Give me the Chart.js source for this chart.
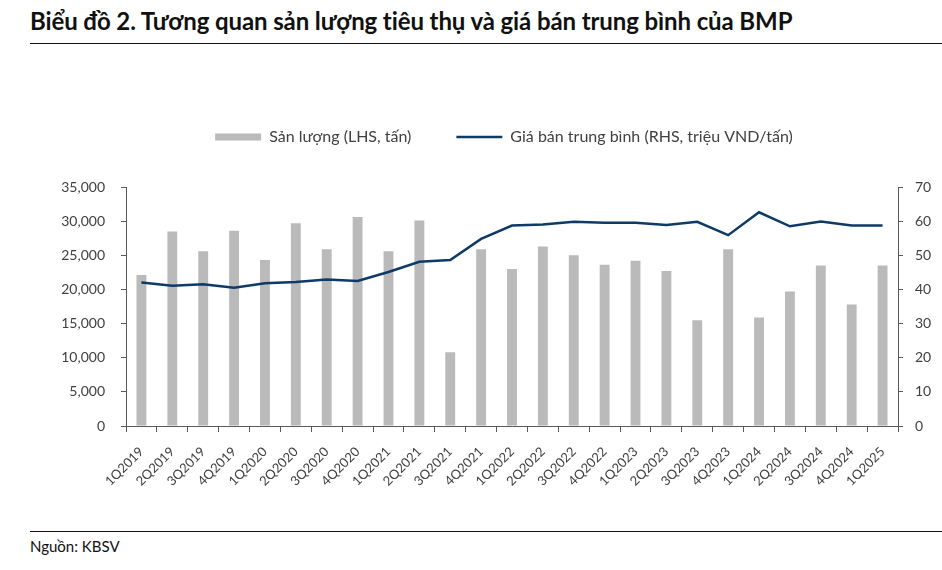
<!DOCTYPE html>
<html>
<head>
<meta charset="utf-8">
<script src="https://cdn.jsdelivr.net/npm/chart.js@4"></script>
<style>
  body { margin: 0; width: 942px; height: 570px; background: #fff; position: relative; overflow: hidden; font-family: Lato, sans-serif; }
  #title { position: absolute; left: 30px; top: 6px; font-size: 24px; font-weight: bold; color: #111; white-space: nowrap; letter-spacing: -0.1px; }
  .rule { position: absolute; left: 30px; right: 0; height: 0; border-top: 1.5px solid #111; }
  #src { position: absolute; left: 30px; top: 537px; font-size: 15px; color: #111; }
  #wrap { position: absolute; left: 0; top: 60px; }
</style>
</head>
<body>
<div id="title">Biểu đồ 2. Tương quan sản lượng tiêu thụ và giá bán trung bình của BMP</div>
<div class="rule" style="top:43px"></div>
<div id="wrap"><canvas id="c" width="942" height="460"></canvas></div>
<div class="rule" style="top:531px"></div>
<div id="src">Nguồn: KBSV</div>
<script>
// ── Data ─────────────────────────────────────────────────────────
const quarters = ['1Q2019','2Q2019','3Q2019','4Q2019','1Q2020','2Q2020','3Q2020','4Q2020',
  '1Q2021','2Q2021','3Q2021','4Q2021','1Q2022','2Q2022','3Q2022','4Q2022',
  '1Q2023','2Q2023','3Q2023','4Q2023','1Q2024','2Q2024','3Q2024','4Q2024','1Q2025'];
const volume = [22100, 28500, 25600, 28600, 24300, 29700, 25900, 30600,
  25600, 30100, 10800, 25900, 23000, 26300, 25000, 23600,
  24200, 22700, 15500, 25900, 15900, 19700, 23500, 17800, 23500];
const avgPrice = [42.0, 41.1, 41.5, 40.5, 41.8, 42.2, 42.9, 42.5,
  45.1, 48.1, 48.6, 54.8, 58.7, 59.0, 59.8, 59.5,
  59.5, 58.9, 59.8, 55.9, 62.6, 58.5, 59.9, 58.7, 58.7];

const AXIS = '#595959';
const TXT = '#404040';

// fixed legend block height, legend roughly centred over the plot area
const legendGap = {
  id: 'legendGap',
  beforeInit(chart) {
    const fit = chart.legend.fit;
    chart.legend.fit = function () { fit.call(this); this.height = 103; };
  },
  afterLayout(chart) {
    const lg = chart.legend;
    const shift = (chart.chartArea.left + chart.chartArea.right) / 2 - (lg.left + lg.right) / 2 - 8;
    lg.left += shift; lg.right += shift;
  }
};

new Chart(document.getElementById('c'), {
  data: {
    labels: quarters,
    datasets: [{
      type: 'bar',
      label: 'Sản lượng (LHS, tấn)',
      data: volume,
      yAxisID: 'yL',
      backgroundColor: '#bababa',
      barPercentage: 0.32,
      categoryPercentage: 1,
      order: 1
    }, {
      type: 'line',
      label: 'Giá bán trung bình (RHS, triệu VND/tấn)',
      data: avgPrice,
      yAxisID: 'yR',
      borderColor: '#0d3a66',
      backgroundColor: '#0d3a66',
      borderWidth: 2.5,
      pointRadius: 0,
      tension: 0,
      order: 0
    }]
  },
  options: {
    responsive: false, animation: false, devicePixelRatio: 1,
    layout: { padding: { top: 24, left: 0, right: 0, bottom: 0 } },
    plugins: {
      tooltip: { enabled: false },
      legend: {
        position: 'top',
        labels: {
          color: TXT,
          font: { family: 'Lato', size: 16 },
          boxWidth: 46, boxHeight: 7,
          usePointStyle: true, pointStyleWidth: 46,
          padding: 45,
          sort: (a, b) => a.datasetIndex - b.datasetIndex,
          generateLabels(chart) {
            const items = Chart.defaults.plugins.legend.labels.generateLabels(chart);
            items.forEach(it => {
              it.pointStyle = it.datasetIndex === 0 ? 'rect' : 'line';
              if (it.datasetIndex === 0) it.lineWidth = 0;
              it.fontColor = TXT;
            });
            return items;
          }
        }
      }
    },
    scales: {
      x: {
        offset: true,
        grid: { offset: true, drawOnChartArea: false, drawTicks: true, tickLength: 6, color: AXIS },
        border: { color: AXIS, width: 1 },
        ticks: { color: TXT, font: { family: 'Lato', size: 13 }, minRotation: 45, maxRotation: 45, autoSkip: false, padding: 12 },
        afterFit: s => { s.height = 94; }
      },
      yL: {
        position: 'left', min: 0, max: 35000,
        grid: { drawOnChartArea: false, drawTicks: true, tickLength: 5, color: AXIS },
        border: { color: AXIS, width: 1 },
        ticks: { stepSize: 5000, color: TXT, padding: 16, font: { family: 'Lato', size: 14 },
                 callback: v => v.toLocaleString('en-US') },
        afterFit: s => { s.width = 126; }
      },
      yR: {
        position: 'right', min: 0, max: 70,
        grid: { drawOnChartArea: false, drawTicks: true, tickLength: 5, color: AXIS },
        border: { color: AXIS, width: 1 },
        ticks: { stepSize: 10, color: TXT, padding: 12, font: { family: 'Lato', size: 14 } },
        afterFit: s => { s.width = 44; }
      }
    }
  },
  plugins: [legendGap]
});
</script>
</body>
</html>
